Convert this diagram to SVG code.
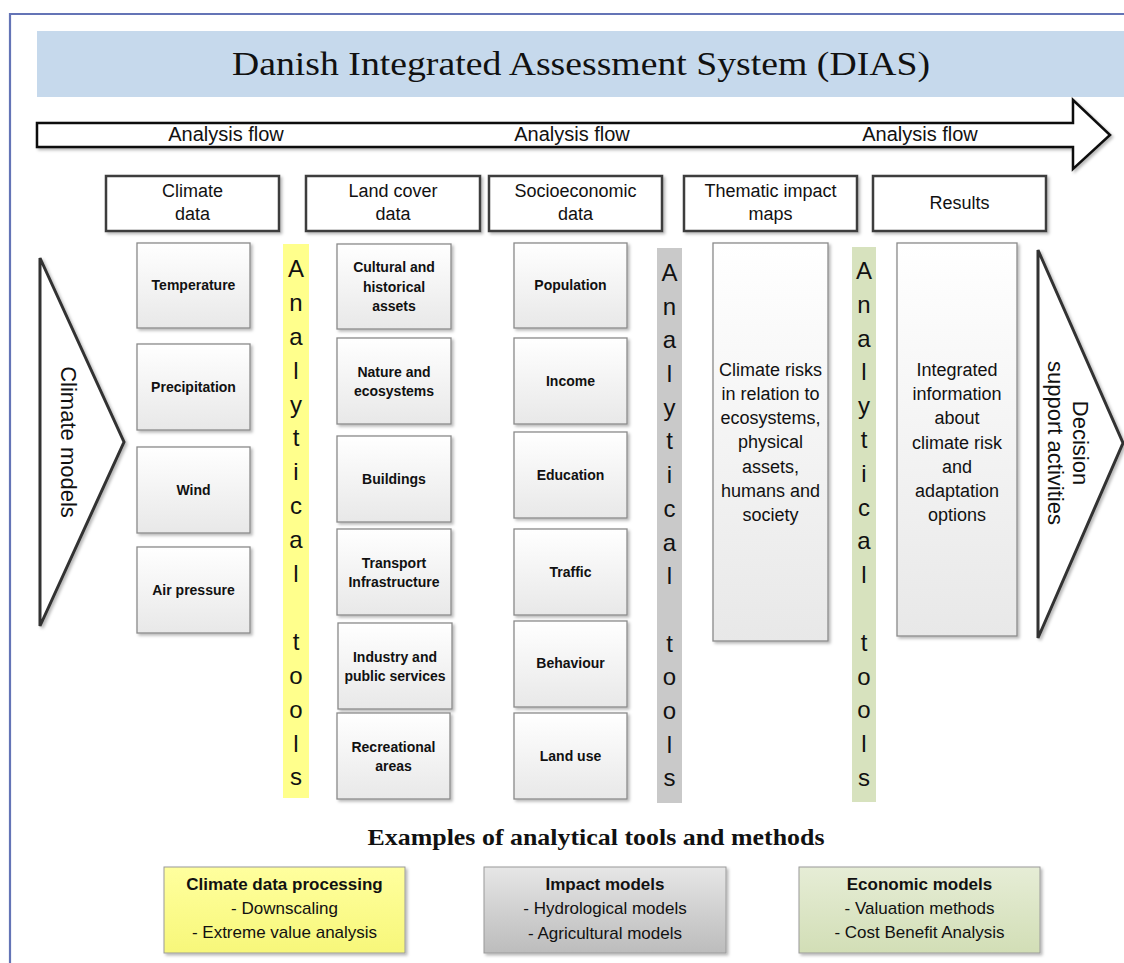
<svg xmlns="http://www.w3.org/2000/svg" width="1124" height="963" viewBox="0 0 1124 963">
<defs>
<filter id="sh" x="-10%" y="-10%" width="130%" height="130%"><feDropShadow dx="2" dy="2" stdDeviation="1.5" flood-color="#000" flood-opacity="0.28"/></filter>
<linearGradient id="gBox" x1="0" y1="0" x2="0" y2="1"><stop offset="0" stop-color="#ffffff"/><stop offset="1" stop-color="#e8e8e8"/></linearGradient>
<linearGradient id="gYel" x1="0" y1="0" x2="0" y2="1"><stop offset="0" stop-color="#ffff9e"/><stop offset="1" stop-color="#f7f77a"/></linearGradient>
<linearGradient id="gGry" x1="0" y1="0" x2="0" y2="1"><stop offset="0" stop-color="#e6e6e6"/><stop offset="1" stop-color="#bcbcbc"/></linearGradient>
<linearGradient id="gGrn" x1="0" y1="0" x2="0" y2="1"><stop offset="0" stop-color="#e6edd6"/><stop offset="1" stop-color="#d2deb6"/></linearGradient>
<style>
.sans{font-family:"Liberation Sans",Arial,sans-serif;fill:#111}
.serif{font-family:"Liberation Serif","DejaVu Serif",serif;fill:#111}
.hdr{fill:#fff;stroke:#3c3c3c;stroke-width:2.5;filter:url(#sh)}
.hdrt{font-size:18px;text-anchor:middle}
.box{fill:url(#gBox);stroke:#8a8a8a;stroke-width:1.3;filter:url(#sh)}
.bt{font-size:14px;font-weight:bold;text-anchor:middle}
.big{font-size:18px;text-anchor:middle}
.bar-y{fill:#ffff8c}
.bar-g{fill:#c9c9c9}
.bar-o{fill:#d7e2be}
.let{font-size:24px;text-anchor:middle}
.tri{fill:#fff;stroke:#333;stroke-width:3;stroke-linejoin:miter;filter:url(#sh)}
.rot{font-size:22px;text-anchor:middle}
.leg{stroke:#9a9a9a;stroke-width:1;filter:url(#sh)}
.lt{font-size:17px;text-anchor:middle}
.flow{font-size:20px;text-anchor:middle}
</style>
</defs>
<rect width="1124" height="963" fill="#fff"/>
<path d="M10,963 V14 H1124" fill="none" stroke="#6474b6" stroke-width="2.2"/>

<g id="title">
<rect x="37" y="31" width="1087" height="66" fill="#c6d9ec"/>
<text class="serif" x="581" y="75" font-size="34" text-anchor="middle" textLength="698" lengthAdjust="spacingAndGlyphs">Danish Integrated Assessment System (DIAS)</text>
</g>

<g id="connectors">
<polygon points="37,123 1073,123 1073,100 1110,135 1073,169 1073,147 37,147" fill="#fff" stroke="#111" stroke-width="2.5" stroke-linejoin="miter" filter="url(#sh)"/>
<text class="sans flow" x="226" y="141">Analysis flow</text>
<text class="sans flow" x="572" y="141">Analysis flow</text>
<text class="sans flow" x="920" y="141">Analysis flow</text>
</g>

<g id="hdr-climate"><rect class="hdr" x="106" y="176" width="173" height="55"/><text class="sans hdrt" x="192.5" y="197">Climate</text><text class="sans hdrt" x="192.5" y="220">data</text></g>
<g id="hdr-landcover"><rect class="hdr" x="306" y="176" width="174" height="55"/><text class="sans hdrt" x="393" y="197">Land cover</text><text class="sans hdrt" x="393" y="220">data</text></g>
<g id="hdr-socio"><rect class="hdr" x="489" y="176" width="173" height="55"/><text class="sans hdrt" x="575.5" y="197">Socioeconomic</text><text class="sans hdrt" x="575.5" y="220">data</text></g>
<g id="hdr-thematic"><rect class="hdr" x="684" y="176" width="173" height="55"/><text class="sans hdrt" x="770.5" y="197">Thematic impact</text><text class="sans hdrt" x="770.5" y="220">maps</text></g>
<g id="hdr-results"><rect class="hdr" x="873" y="176" width="173" height="55"/><text class="sans hdrt" x="959.5" y="209">Results</text></g>

<g id="climate-models"><polygon class="tri" points="40,258 124,442 40,626"/><text class="sans rot" transform="translate(61,442) rotate(90)">Climate models</text></g>

<g id="temperature"><rect class="box" x="137" y="243" width="113" height="85"/><text class="sans bt" x="193.5" y="290">Temperature</text></g>
<g id="precipitation"><rect class="box" x="137" y="344" width="113" height="86"/><text class="sans bt" x="193.5" y="392">Precipitation</text></g>
<g id="wind"><rect class="box" x="137" y="447" width="113" height="86"/><text class="sans bt" x="193.5" y="495">Wind</text></g>
<g id="airpressure"><rect class="box" x="137" y="547" width="113" height="86"/><text class="sans bt" x="193.5" y="595">Air pressure</text></g>

<g id="tools-1"><rect class="bar-y" x="283" y="244" width="26" height="554"/>
<text class="sans let"><tspan x="296" y="277">A</tspan><tspan x="296" y="311">n</tspan><tspan x="296" y="345">a</tspan><tspan x="296" y="379">l</tspan><tspan x="296" y="413">y</tspan><tspan x="296" y="446">t</tspan><tspan x="296" y="480">i</tspan><tspan x="296" y="514">c</tspan><tspan x="296" y="548">a</tspan><tspan x="296" y="582">l</tspan><tspan x="296" y="650">t</tspan><tspan x="296" y="684">o</tspan><tspan x="296" y="718">o</tspan><tspan x="296" y="752">l</tspan><tspan x="296" y="785">s</tspan></text></g>

<g id="cultural"><rect class="box" x="337" y="244" width="114" height="85"/><text class="sans bt" x="394" y="272">Cultural and</text><text class="sans bt" x="394" y="292">historical</text><text class="sans bt" x="394" y="311">assets</text></g>
<g id="nature"><rect class="box" x="337" y="338" width="114" height="86"/><text class="sans bt" x="394" y="377">Nature and</text><text class="sans bt" x="394" y="396">ecosystems</text></g>
<g id="buildings"><rect class="box" x="337" y="436" width="114" height="86"/><text class="sans bt" x="394" y="484">Buildings</text></g>
<g id="transport"><rect class="box" x="337" y="529" width="114" height="86"/><text class="sans bt" x="394" y="568">Transport</text><text class="sans bt" x="394" y="587">Infrastructure</text></g>
<g id="industry"><rect class="box" x="338" y="623" width="114" height="86"/><text class="sans bt" x="395" y="662">Industry and</text><text class="sans bt" x="395" y="681">public services</text></g>
<g id="recreational"><rect class="box" x="337" y="713" width="113" height="86"/><text class="sans bt" x="393.5" y="752">Recreational</text><text class="sans bt" x="393.5" y="771">areas</text></g>

<g id="population"><rect class="box" x="514" y="243" width="113" height="85"/><text class="sans bt" x="570.5" y="290">Population</text></g>
<g id="income"><rect class="box" x="514" y="338" width="113" height="86"/><text class="sans bt" x="570.5" y="386">Income</text></g>
<g id="education"><rect class="box" x="514" y="432" width="113" height="86"/><text class="sans bt" x="570.5" y="480">Education</text></g>
<g id="traffic"><rect class="box" x="514" y="529" width="113" height="86"/><text class="sans bt" x="570.5" y="577">Traffic</text></g>
<g id="behaviour"><rect class="box" x="514" y="621" width="113" height="86"/><text class="sans bt" x="570.5" y="668">Behaviour</text></g>
<g id="landuse"><rect class="box" x="514" y="713" width="113" height="86"/><text class="sans bt" x="570.5" y="761">Land use</text></g>

<g id="tools-2"><rect class="bar-g" x="657" y="248" width="25" height="555"/>
<text class="sans let"><tspan x="669.5" y="281">A</tspan><tspan x="669.5" y="315">n</tspan><tspan x="669.5" y="348">a</tspan><tspan x="669.5" y="382">l</tspan><tspan x="669.5" y="416">y</tspan><tspan x="669.5" y="449">t</tspan><tspan x="669.5" y="483">i</tspan><tspan x="669.5" y="517">c</tspan><tspan x="669.5" y="551">a</tspan><tspan x="669.5" y="584">l</tspan><tspan x="669.5" y="652">t</tspan><tspan x="669.5" y="685">o</tspan><tspan x="669.5" y="719">o</tspan><tspan x="669.5" y="753">l</tspan><tspan x="669.5" y="786">s</tspan></text></g>

<g id="thematic"><rect class="box" x="713" y="243" width="115" height="398"/>
<text class="sans big" x="770.5" y="376">Climate risks</text><text class="sans big" x="770.5" y="400">in relation to</text><text class="sans big" x="770.5" y="424">ecosystems,</text><text class="sans big" x="770.5" y="448">physical</text><text class="sans big" x="770.5" y="473">assets,</text><text class="sans big" x="770.5" y="497">humans and</text><text class="sans big" x="770.5" y="521">society</text></g>

<g id="tools-3"><rect class="bar-o" x="852" y="247" width="24" height="555"/>
<text class="sans let"><tspan x="864" y="279">A</tspan><tspan x="864" y="313">n</tspan><tspan x="864" y="347">a</tspan><tspan x="864" y="380">l</tspan><tspan x="864" y="414">y</tspan><tspan x="864" y="448">t</tspan><tspan x="864" y="482">i</tspan><tspan x="864" y="516">c</tspan><tspan x="864" y="549">a</tspan><tspan x="864" y="583">l</tspan><tspan x="864" y="651">t</tspan><tspan x="864" y="685">o</tspan><tspan x="864" y="718">o</tspan><tspan x="864" y="752">l</tspan><tspan x="864" y="786">s</tspan></text></g>

<g id="results"><rect class="box" x="897" y="243" width="120" height="393"/>
<text class="sans big" x="957" y="376">Integrated</text><text class="sans big" x="957" y="400">information</text><text class="sans big" x="957" y="424">about</text><text class="sans big" x="957" y="449">climate risk</text><text class="sans big" x="957" y="473">and</text><text class="sans big" x="957" y="497">adaptation</text><text class="sans big" x="957" y="521">options</text></g>

<g id="decision"><polygon class="tri" points="1038,250 1123,443 1038,638"/><text class="sans rot" transform="translate(1073,443) rotate(90)">Decision</text><text class="sans rot" transform="translate(1048,443) rotate(90)">support activities</text></g>

<g id="legend-title"><text class="serif" x="596" y="845" font-size="23" font-weight="bold" text-anchor="middle" textLength="457" lengthAdjust="spacingAndGlyphs">Examples of analytical tools and methods</text></g>

<g id="legend-climate"><rect class="leg" x="164" y="867" width="241" height="86" fill="url(#gYel)"/><text class="sans lt" x="284.5" y="890" font-weight="bold">Climate data processing</text><text class="sans lt" x="284.5" y="914">- Downscaling</text><text class="sans lt" x="284.5" y="938">- Extreme value analysis</text></g>
<g id="legend-impact"><rect class="leg" x="484" y="867" width="242" height="86" fill="url(#gGry)"/><text class="sans lt" x="605" y="890" font-weight="bold">Impact models</text><text class="sans lt" x="605" y="914">- Hydrological models</text><text class="sans lt" x="605" y="939">- Agricultural models</text></g>
<g id="legend-economic"><rect class="leg" x="799" y="867" width="241" height="86" fill="url(#gGrn)"/><text class="sans lt" x="919.5" y="890" font-weight="bold">Economic models</text><text class="sans lt" x="919.5" y="914">- Valuation methods</text><text class="sans lt" x="919.5" y="938">- Cost Benefit Analysis</text></g>
</svg>
